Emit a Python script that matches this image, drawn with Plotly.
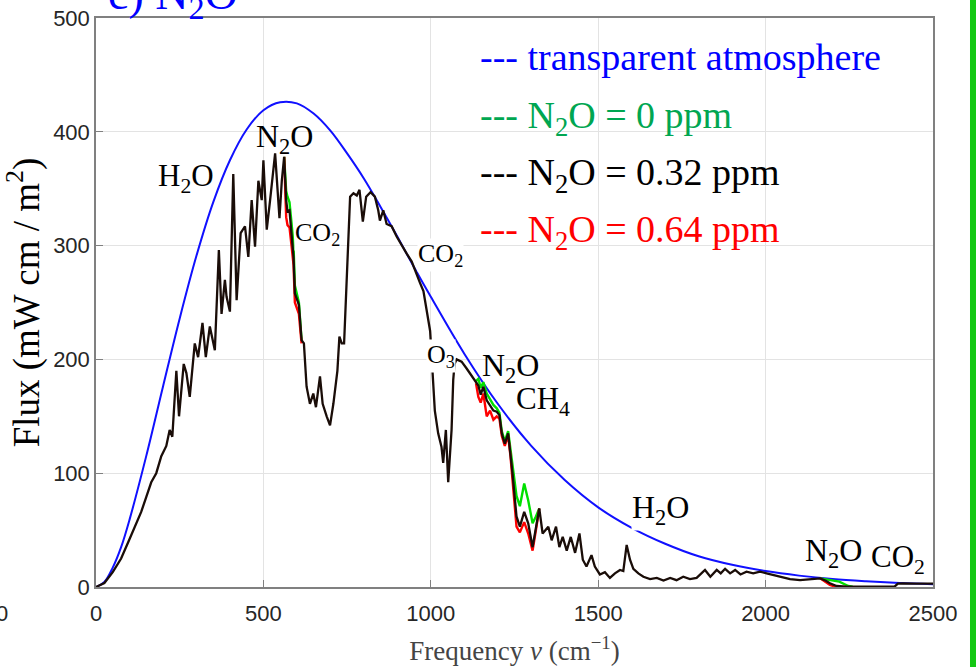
import plotly.graph_objects as go

# ---- data ----
nu_blue = [0, 25, 50, 75, 100, 150, 200, 250, 300, 350, 400, 450, 500, 550, 600, 650, 700, 750, 800,
           850, 900, 950, 1000, 1100, 1200, 1300, 1400, 1500, 1600, 1700, 1800, 1900, 2000, 2100,
           2200, 2300, 2400, 2500]
flux_blue = [0, 4.4, 17, 35, 59, 115, 176, 236, 291, 338, 375, 402, 419, 426, 425, 416, 401, 381, 359,
             334, 308, 281, 255, 205, 161, 124, 94, 70, 52, 38, 27, 19.5, 14, 10,
             7, 5, 3.5, 2.5]

nu_black = [0, 25, 50, 75, 100, 120, 135, 150, 165, 180, 195, 210, 220, 228, 240, 248, 262, 270, 280,
            295, 305, 318, 328, 340, 355, 367, 375, 385, 390, 400, 410, 420, 432, 445, 455, 465, 475,
            485, 495, 500, 510, 520, 525, 535, 548, 555, 562, 568, 572, 578, 584, 590, 594, 600, 606,
            614, 621, 629, 639, 649, 657, 669, 677, 689, 699, 709, 721, 727, 734, 741, 749, 759, 769,
            779, 787, 797, 807, 820, 833, 843, 848, 858, 868, 883, 898, 913, 928, 943, 958, 968, 978,
            988, 998, 1005, 1012, 1022, 1032, 1037, 1045, 1052, 1062, 1067, 1071, 1077, 1092, 1107,
            1122, 1135, 1142, 1149, 1157, 1167, 1177, 1187, 1197, 1205, 1212, 1221, 1231, 1238, 1244,
            1256, 1266, 1279, 1291, 1304, 1314, 1324, 1334, 1351, 1361, 1374, 1384, 1394, 1406, 1418,
            1431, 1444, 1454, 1465, 1480, 1490, 1505, 1520, 1535, 1550, 1565, 1575, 1585, 1595, 1605,
            1620, 1635, 1655, 1675, 1695, 1715, 1734, 1754, 1774, 1794, 1819, 1835, 1854, 1866, 1879,
            1894, 1909, 1925, 1943, 1963, 1983, 2003, 2025, 2048, 2073, 2103, 2133, 2163, 2180, 2192,
            2212, 2240, 2300, 2385, 2395, 2410, 2450, 2500]
flux_black = [0, 3.5, 13, 25, 42, 56, 66, 79, 92, 100, 115, 124, 138, 132, 190, 150, 196, 188, 167,
              214, 202, 232, 202, 229, 208, 296, 240, 270, 255, 242, 363, 252, 311, 317, 290, 340, 299,
              357, 340, 375, 314, 340, 355, 381, 324, 357, 378, 340, 330, 331, 310, 290, 258, 252, 248,
              217, 214, 176, 161, 170, 158, 185, 161, 150, 142, 161, 190, 220, 214, 214, 278, 343, 346,
              344, 349, 321, 343, 347, 343, 331, 322, 331, 319, 317, 308, 300, 293, 286, 274, 267, 260,
              243, 225, 190, 155, 135, 123, 109, 138, 92, 138, 182, 196, 200, 198, 192,
              186, 180, 177, 169, 176, 164, 160, 155, 154, 151, 135, 126, 135, 117, 100,
              62, 53, 66, 56, 35, 53, 69, 47, 53, 41, 53, 35, 44, 32, 44,
              30, 47, 24, 18, 28, 18, 11, 13, 8, 12, 15, 14, 37, 24, 16,
              12, 9, 7, 8, 5.6, 8, 6, 9, 7, 8, 15, 9, 15, 12, 16,
              12, 15, 11, 13.5, 12, 13.5, 12, 10.5, 9, 7, 6, 7, 7.5, 5.5, 3.3,
              0.9, 0.3, 0.3, 0.3, 3, 3.2, 3, 3]

# N2O = 0 ppm (green) where it departs from the 0.32 ppm curve
nu_green = [562, 568, 572, 578, 584, 590, 594, 600, 606, 614, None,
            1135, 1142, 1149, 1157, 1167, 1177, 1187, 1197, 1205, 1212, 1221, 1231, 1238, 1244,
            1256, 1266, 1279, 1291, 1304, 1314, 1324, None,
            2163, 2182, 2220, 2247, 2260]
flux_green = [378, 348, 343, 338, 320, 300, 265, 256, 250, 217, None,
              181, 183, 175, 180, 170, 165, 160, 157, 153, 137, 128, 137, 120, 108,
              80, 71, 91, 76, 56, 62, 69, None,
              7.6, 6.8, 4.7, 0.9, 0.3]

# N2O = 0.64 ppm (red)
nu_red = [562, 568, 572, 578, 584, 590, 594, 600, 606, 614, None,
          1135, 1142, 1149, 1157, 1167, 1177, 1187, 1197, 1205, 1212, 1221, 1231, 1238, 1244,
          1256, 1266, 1279, 1291, 1304, 1314, 1324, None,
          2163, 2180, 2192, 2210, 2240]
flux_red = [378, 325, 318, 316, 300, 283, 250, 244, 240, 214, None,
            179, 167, 162, 170, 150, 155, 147, 150, 148, 133, 124, 133, 115, 96,
            53, 48, 57, 47, 32, 50, 69, None,
            7.6, 4.5, 1.8, 0.2, 0]

x_ticks = [0, 500, 1000, 1500, 2000, 2500]
y_ticks = [0, 100, 200, 300, 400, 500]

legend_texts = ["--- transparent atmosphere", "--- N<sub>2</sub>O = 0 ppm",
                "--- N<sub>2</sub>O = 0.32 ppm", "--- N<sub>2</sub>O = 0.64 ppm"]
legend_colors = ["#0000ff", "#00a651", "#000000", "#ff0000"]

band_labels = ["H<sub>2</sub>O", "N<sub>2</sub>O", "CO<sub>2</sub>", "CO<sub>2</sub>", "O<sub>3</sub>",
               "N<sub>2</sub>O", "CH<sub>4</sub>", "H<sub>2</sub>O", "N<sub>2</sub>O", "CO<sub>2</sub>"]
band_label_nu = [269, 563, 663, 1029, 1030, 1237, 1334, 1685, 2204, 2394]
band_label_flux = [360, 395, 311, 293, 204, 193.6, 164.3, 69.4, 31.6, 25.5]

# ---- figure ----
SERIF = "Liberation Serif, Times New Roman, serif"
fig = go.Figure()
fig.add_trace(go.Scatter(x=nu_blue, y=flux_blue, mode="lines", line=dict(color="#1010ff", width=2),
                         line_shape="spline", name="transparent atmosphere"))
fig.add_trace(go.Scatter(x=nu_green, y=flux_green, mode="lines", line=dict(color="#00e000", width=2.4),
                         name="N2O = 0 ppm", connectgaps=False))
fig.add_trace(go.Scatter(x=nu_red, y=flux_red, mode="lines", line=dict(color="#ff0000", width=2.4),
                         name="N2O = 0.64 ppm", connectgaps=False))
fig.add_trace(go.Scatter(x=nu_black, y=flux_black, mode="lines", line=dict(color="#1a0d08", width=2.3),
                         name="N2O = 0.32 ppm"))

# white patch behind the legend text (as in the source image)
fig.add_shape(type="rect", xref="x", yref="y", x0=1110, x1=2490, y0=301, y1=398,
              fillcolor="white", line_width=0, layer="below")
fig.add_shape(type="rect", xref="x", yref="y", x0=2050, x1=2490, y0=301, y1=402,
              fillcolor="white", line_width=0, layer="below")

# legend as coloured text
legend_y = [466, 412, 362, 312]
for t, c, yv in zip(legend_texts, legend_colors, legend_y):
    fig.add_annotation(x=1141, y=yv, xref="x", yref="y", text=t, showarrow=False,
                       xanchor="left", yanchor="middle", font=dict(family=SERIF, size=38, color=c))

sizes = [31, 32, 26, 26, 26, 32, 31, 32, 32, 31]
bgs = [None, None, "white", "white", "white", None, None, "white", "white", "white"]
for t, xv, yv, s, bg in zip(band_labels, band_label_nu, band_label_flux, sizes, bgs):
    kw = dict(bgcolor=bg, borderpad=0) if bg else {}
    fig.add_annotation(x=xv, y=yv, xref="x", yref="y", text=t, showarrow=False,
                       xanchor="center", yanchor="middle", yshift=-1,
                       font=dict(family=SERIF, size=s, color="black"), **kw)

# panel title, cut off at the top of the image
fig.add_annotation(x=0.012, y=1.0, xref="paper", yref="paper", text="c) N<sub>2</sub>O",
                   showarrow=False, xanchor="left", yanchor="bottom", yshift=-10,
                   font=dict(family=SERIF, size=46, color="#0000ff"))
# stray tick label from neighbouring panel at the left edge
fig.add_annotation(x=-0.112, y=0, xref="paper", yref="paper", text="0", showarrow=False,
                   xanchor="center", yanchor="top", yshift=-12,
                   font=dict(family="Liberation Sans Narrow, Liberation Sans, Arial", size=22,
                             color="#262626"))
# green bar at the right edge
fig.add_shape(type="rect", xref="paper", yref="paper", x0=1.0442, x1=1.06, y0=-0.2, y1=1.1,
              fillcolor="#14c814", line_width=0)

TICKFONT = dict(family="Liberation Sans Narrow, Liberation Sans, Arial", size=22, color="#262626")
fig.update_xaxes(range=[0, 2500], tickvals=x_ticks, ticktext=[str(v) for v in x_ticks],
                 showgrid=True, gridcolor="#e3e3e3", gridwidth=1, zeroline=False, automargin=False,
                 showline=True, linecolor="#808080", linewidth=1.5, mirror=True,
                 ticks="inside", ticklen=7, tickcolor="#808080", tickfont=TICKFONT,
                 ticklabelstandoff=6,
                 title=dict(text="Frequency <i>ν</i> (cm<sup>−1</sup>)",
                            font=dict(family=SERIF, size=27, color="#444444"), standoff=16))
fig.update_yaxes(range=[0, 500], tickvals=y_ticks, ticktext=[str(v) for v in y_ticks],
                 showgrid=True, gridcolor="#e3e3e3", gridwidth=1, zeroline=False, automargin=False,
                 showline=True, linecolor="#808080", linewidth=1.5, mirror=True,
                 ticks="inside", ticklen=7, tickcolor="#808080", tickfont=TICKFONT,
                 title=dict(text="Flux (mW cm / m<sup>2</sup>)",
                            font=dict(family=SERIF, size=37, color="black"), standoff=4))

fig.update_layout(width=976, height=667, margin=dict(l=96, r=43, t=18, b=80),
                  paper_bgcolor="white", plot_bgcolor="white", showlegend=False)

fig.write_html("out.html", config={"displayModeBar": False},
               post_script="document.body.style.margin='0px';")
